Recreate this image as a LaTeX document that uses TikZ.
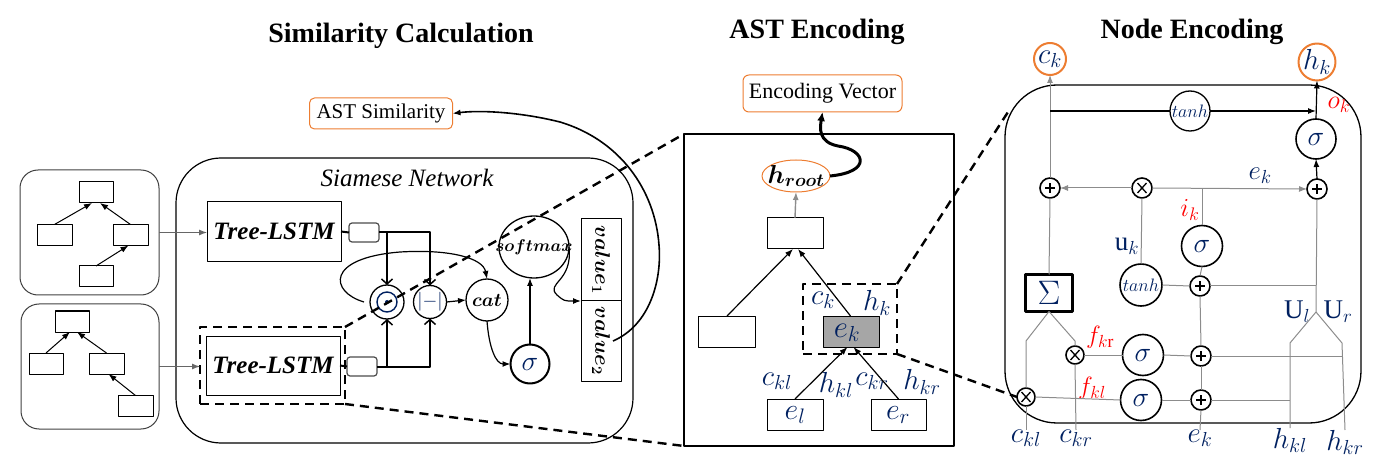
\RequirePackage{fix-cm}
\documentclass[tikz,border=0pt]{standalone}
\usepackage{amsmath}
\usepackage{bm}
\usepackage{fontspec}
\setmainfont{Liberation Serif}
\usetikzlibrary{arrows.meta,shapes.geometric,calc}
\definecolor{navy}{RGB}{0,32,96}
\definecolor{orng}{RGB}{237,125,49}
\definecolor{gline}{RGB}{140,140,140}
\definecolor{gfill}{RGB}{166,166,166}
\definecolor{redl}{RGB}{255,0,0}
\newcommand{\myfs}[1]{\fontsize{#1}{#1}\selectfont}
\begin{document}
\begin{tikzpicture}[x=1pt,y=-1pt,line join=round,
  every node/.style={inner sep=0pt,outer sep=0pt},
  arr/.style={-{Latex[length=8pt,width=6pt]}},
  barb/.style={-{Straight Barb[length=5pt,width=11pt,line width=1.5pt]}},
  gl/.style={draw=gline,line width=1pt},
  thk/.style={line width=2pt},
  dsh/.style={line width=2.4pt,dash pattern=on 9pt off 6pt},
  leaf/.style={draw,line width=1pt,minimum width=34pt,minimum height=21pt},
  tbox/.style={draw=black!75,line width=1pt,rounded corners=18pt,minimum width=139pt,minimum height=125pt},
  circ/.style={circle,draw,line width=1.3pt},
  mlab/.style={text=navy,font=\myfs{29}},
  slab/.style={text=navy,font=\myfs{27}},
  rlab/.style={text=redl,font=\myfs{26}},
  opl/.style={circle,draw,line width=1.6pt,minimum size=20pt,
    path picture={\draw[line width=1.3pt] ($(path picture bounding box.center)+(-5pt,0pt)$) -- +(10pt,0pt)
      ($(path picture bounding box.center)+(0pt,-5pt)$) -- +(0pt,10pt);}},
  otm/.style={circle,draw,line width=1.6pt,minimum size=20pt,
    path picture={\draw[line width=1.3pt] ($(path picture bounding box.center)+(-4.5pt,-5pt)$) -- +(9pt,10pt)
      ($(path picture bounding box.center)+(-4.5pt,5pt)$) -- +(9pt,-10pt);}},
  ttl/.style={font=\myfs{28}\bfseries}
]
\useasboundingbox (0,0) rectangle (1377,465);

% ---------- titles
\node[ttl] at (401,36) {Similarity Calculation};
\node[ttl] at (817,32) {AST Encoding};
\node[ttl] at (1192,32) {Node Encoding};

% ---------- left trees
\node[tbox] (tb1) at (89.5,232.5) {};
\node[leaf] (t1t) at (96,192.5) {};
\node[leaf,minimum width=35pt] (t1l) at (54.5,235) {};
\node[leaf,minimum width=35pt] (t1r) at (130.5,235) {};
\node[leaf] (t1b) at (96,276.5) {};
\draw[line width=1pt,arr] (t1l.north) -- ([xshift=-4pt]t1t.south);
\draw[line width=1pt,arr] (t1r.north) -- ([xshift=4pt]t1t.south);
\draw[line width=1pt,arr] (t1b.north) -- ([xshift=-2pt]t1r.south);

\node[tbox,minimum width=138pt] (tb2) at (90,366.5) {};
\node[leaf] (t2t) at (72,321.5) {};
\node[leaf] (t2l) at (46,363.5) {};
\node[leaf,minimum width=35pt] (t2r) at (106.5,363.5) {};
\node[leaf,minimum width=35pt] (t2b) at (135.5,406) {};
\draw[line width=1pt,arr] (t2l.north) -- ([xshift=-2pt]t2t.south);
\draw[line width=1pt,arr] (t2r.north) -- ([xshift=5pt]t2t.south);
\draw[line width=1pt,arr] (t2b.north) -- ([xshift=2pt]t2r.south);

% ---------- siamese network
\node[draw,line width=1.2pt,rounded corners=45pt,minimum width=457pt,minimum height=285pt] (sia) at (404.5,300.5) {};
\node[font=\myfs{25}\itshape] (sian) at (407,178) {Siamese Network};
\node[draw,line width=1pt,minimum width=134pt,minimum height=60pt,font=\myfs{25}\bfseries\itshape] (tl1) at (274,231.5) {Tree-LSTM};
\node[draw,line width=1pt,minimum width=134pt,minimum height=59pt,font=\myfs{25}\bfseries\itshape] (tl2) at (273,365.5) {Tree-LSTM};
\node[draw,dsh,minimum width=145pt,minimum height=77pt] (db1) at (272.5,365.5) {};
\draw[draw=black!60,line width=1pt,arr] (tb1.east) -- (tb1.east -| tl1.west);
\draw[draw=black!60,line width=1pt,arr] (tb2.east) -- (tb2.east -| db1.west);

\node[draw=black!70,line width=1.2pt,rounded corners=3pt,minimum width=30pt,minimum height=19pt] (sb1) at (364,232.5) {};
\node[draw=black!70,line width=1.2pt,rounded corners=3pt,minimum width=30pt,minimum height=19pt] (sb2) at (362,366.5) {};

\node[circ,minimum size=34pt,path picture={\draw[navy,line width=1.4pt] (path picture bounding box.center) circle (10pt);
  \fill[navy] (path picture bounding box.center) circle (2pt);}] (od) at (387,302) {};
\node[circ,minimum size=33pt] (mn) at (430,302) {};
\node[text=navy,font=\myfs{19}] (mnt) at (mn) {$|{-}|$};
\node[circ,minimum size=42pt,font=\myfs{19}] (cat) at (487,300) {$\bm{cat}$};
\node[ellipse,draw,line width=1.3pt,minimum width=70pt,minimum height=62pt] (sm) at (534,247) {};
\node[font=\myfs{17}] (smt) at (sm) {$\bm{softmax}$};
\node[circ,line width=2pt,minimum size=39pt,text=navy,font=\myfs{28}] (s1) at (530,364) {$\sigma$};
\node[draw,line width=1pt,minimum width=40pt,minimum height=82pt] (v1) at (601,260) {};
\node[draw,line width=1pt,minimum width=40pt,minimum height=80pt] (v2) at (601,341) {};
\node[rotate=-90,font=\myfs{21}] at (v1) {$\bm{value_1}$};
\node[rotate=-90,font=\myfs{21}] at (v2) {$\bm{value_2}$};

\draw[thk] (tl1.east) -- (sb1.west);
\draw[thk] (tl2.east) -- (sb2.west);
\draw[thk,barb] (sb1.east) -- (mn.north |- sb1.east) -- (mn.north);
\draw[thk,barb] (od.north |- sb1.east) -- (od.north);
\draw[thk,barb] (sb2.east) -- (mn.south |- sb2.east) -- (mn.south);
\draw[thk,barb] (od.south |- sb2.east) -- (od.south);
\draw[line width=1.2pt,arr] (mn.east) -- (cat.west);
\draw[line width=1.2pt,arr] ([xshift=-6pt]od.west) .. controls (330,292) and (325,258) .. (400,252)
   .. controls (450,249) and (483,258) .. (cat.north);
\draw[line width=1.2pt,arr] (cat.south) .. controls (489,348) and (496,364) .. (s1.west);
\draw[line width=1.2pt,arr] (s1.north) -- (s1.north |- sm.south);
\draw[line width=1.2pt,arr] (sm.east) .. controls (573,282) and (545,283) .. (557,295)
   .. controls (564,301) .. (v1.south west);

\node[draw=orng,line width=1pt,rounded corners=5pt,minimum width=143pt,minimum height=31pt,font=\myfs{21}] (ast) at (381,113.5) {AST Similarity};
\draw[line width=1.6pt,arr] ([xshift=-8pt]v2.east) .. controls (650,325) and (662,280) .. (659,245)
   .. controls (655,190) and (620,140) .. (560,122) .. controls (520,112) and (480,110) .. (ast.east);

% ---------- AST encoding
\node[draw,line width=1.2pt,minimum width=270pt,minimum height=312pt] (mid) at (819,290) {};
\node[draw=orng,rounded corners=6pt,line width=1pt,minimum width=159pt,minimum height=37pt,font=\myfs{22}] (encv) at (822.5,93.5) {Encoding Vector};
\node[ellipse,draw=orng,line width=1pt,minimum width=68pt,minimum height=32pt] (hr) at (796,176) {};
\node[font=\myfs{26}] (hrt) at (hr) {$\bm{h_{root}}$};
\node[leaf,minimum width=56pt,minimum height=31pt] (mt) at (795,233.5) {};
\node[leaf,minimum width=57pt,minimum height=31pt] (ml) at (727,331.5) {};
\node[leaf,minimum width=56pt,minimum height=31pt,fill=gfill] (ek) at (851.5,331.5) {};
\node[draw,dsh,minimum width=94pt,minimum height=70pt] (db2) at (850,319) {};
\node[leaf,minimum width=56pt,minimum height=31pt] (el) at (795,414.5) {};
\node[leaf,minimum width=55pt,minimum height=31pt] (er) at (898.5,414.5) {};
\node[mlab,font=\myfs{31}] at (847,333) {$e_k$};
\node[mlab,font=\myfs{30}] at (795,415) {$e_l$};
\node[mlab,font=\myfs{30}] at (898,415) {$e_r$};
\node[mlab] at (823,300) {$c_k$};
\node[mlab] at (877,303) {$h_k$};
\node[mlab] at (777,381) {$c_{kl}$};
\node[mlab] at (836,385) {$h_{kl}$};
\node[mlab] at (872,381) {$c_{kr}$};
\node[mlab] at (922,382) {$h_{kr}$};
\draw[line width=1.2pt,arr] (ml.north) -- ([xshift=-2pt]mt.south);
\draw[line width=1.2pt,arr] ([xshift=-1pt]ek.north) -- ([xshift=3pt]mt.south);
\draw[line width=1.2pt,arr] (el.north) -- ([xshift=-4pt]ek.south);
\draw[line width=1.2pt,arr] (er.north) -- ([xshift=2pt]ek.south);
\draw[draw=gline,line width=1.4pt,arr] (mt.north) -- (hr.south);
\draw[line width=3pt,-{Latex[length=9pt,width=8pt]}] (hr.east) .. controls (872,172) and (866,150) .. (838,146)
   .. controls (818,142) and (820,128) .. (encv.south);

% ---------- node encoding
\node[draw,line width=1.3pt,rounded corners=52pt,minimum width=356pt,minimum height=338pt] (rb) at (1183,254) {};
\node[circle,draw=orng,line width=2pt,minimum size=32pt,text=navy,font=\myfs{29}] (cko) at (1050,59) {$c_k$};
\node[circle,draw=orng,line width=2pt,minimum size=32pt,text=navy,font=\myfs{29}] (hko) at (1317,62) {$h_k$};
\node[circ,minimum size=40pt,text=navy,font=\myfs{18}] (th1) at (1190,111) {$tanh$};
\node[circ,line width=1.6pt,minimum size=40pt,text=navy,font=\myfs{28}] (sgo) at (1316,139) {$\sigma$};
\node[opl] (pL) at (1050,188) {};
\node[opl] (pR) at (1317,189) {};
\node[otm] (xu) at (1142,188) {};
\node[circ,line width=1.6pt,minimum size=41pt,text=navy,font=\myfs{28}] (sgi) at (1202,246) {$\sigma$};
\node[circ,line width=1.6pt,minimum size=42pt,text=navy,font=\myfs{18}] (th2) at (1141,285) {$tanh$};
\node[opl] (p1) at (1200,286) {};
\node[opl] (p2) at (1201,356) {};
\node[opl] (p3) at (1201,400) {};
\node[circ,line width=1.6pt,minimum size=41pt,text=navy,font=\myfs{28}] (sfr) at (1143,355) {$\sigma$};
\node[circ,line width=1.6pt,minimum size=41pt,text=navy,font=\myfs{28}] (sfl) at (1141,400) {$\sigma$};
\node[otm,minimum size=18pt] (xkr) at (1075,355) {};
\node[otm,minimum size=18pt] (xkl) at (1026,397) {};
\node[draw,line width=3pt,minimum width=47pt,minimum height=37pt,text=navy,font=\myfs{34}] (sum) at (1049,293) {$\Sigma$};
\coordinate (fk) at (1316,312);
\coordinate (fl) at (1290,343);
\coordinate (fr) at (1342,343);
\coordinate (sl) at (1026,341);
\coordinate (sr) at (1075,341);
\node[mlab,anchor=north] (ckl) at (1026,430) {$c_{kl}$};
\node[mlab,anchor=north] (ckr) at (1076,430) {$c_{kr}$};
\node[mlab,anchor=north] (ekb) at (1200,430) {$e_k$};
\node[mlab,anchor=north] (hkl) at (1290,428) {$h_{kl}$};
\node[mlab,anchor=north] (hkr) at (1345,430) {$h_{kr}$};
\node[rlab] at (1339,105) {$o_k$};
\node[rlab] at (1190,210) {$i_k$};
\node[slab] at (1127,246) {$\mathrm{u}_k$};
\node[slab] at (1260,176) {$e_k$};
\node[rlab,font=\myfs{25}] at (1100,337) {$f_{k\mathrm{r}}$};
\node[rlab,font=\myfs{25}] at (1092,388) {$f_{kl}$};
\node[slab] at (1297,312) {$\mathrm{U}_l$};
\node[slab] at (1338,312) {$\mathrm{U}_r$};

\draw[gl,arr] (pL.north) -- (cko.south);
\draw[gl] (sum.north) -- (pL.south);
\draw[line width=1.1pt] (pL.north |- th1.west) -- (th1.west);
\draw[line width=1.1pt,arr] (th1.east) -- (sgo.north |- th1.east);
\draw[line width=1.2pt,arr] (sgo.north) -- (hko.south);
\draw[line width=1.2pt,arr] (pR.north) -- (sgo.south);
\draw[gl,arr] (xu.west) -- (pL.east);
\draw[gl,arr] (xu.east) -- (pR.west);
\draw[gl] (sgi.north) -- (sgi.north |- xu.east);
\draw[gl] (xu.south) -- (th2.north);
\draw[gl] (th2.east) -- (p1.west);
\draw[gl] (sgi.south) -- (p1.north);
\draw[gl] (p1.south) -- (p2.north);
\draw[gl] (p2.south) -- (p3.north);
\draw[gl] (p3.south) -- (ekb.north);
\draw[gl] (p1.east) -- (p1.east -| fk);
\draw[gl] (pR.south) -- (fk);
\draw[gl] (fk) -- (fl) -- (hkl.north);
\draw[gl] (fk) -- (fr) -- (hkr.north);
\draw[gl] (p2.east) -- (p2.east -| fr);
\draw[gl] (p3.east) -- (p3.east -| fl);
\draw[gl] (sfr.east) -- (p2.west);
\draw[gl] (sfl.east) -- (p3.west);
\draw[gl] (xkr.east) -- (sfr.west);
\draw[gl] (xkl.east) -- (sfl.west);
\draw[gl] (sum.south) -- (sl) -- (xkl.north);
\draw[gl] (xkl.south) -- (ckl.north);
\draw[gl] (sum.south) -- (sr) -- (xkr.north);
\draw[gl] (xkr.south) -- (ckr.north);

% ---------- zoom connectors
\coordinate (rtop) at (1008,112);
\draw[dsh] (db1.north east) -- (mid.north west);
\draw[dsh] (db1.south east) -- (mid.south west);
\draw[dsh] (db2.north east) -- (rtop);
\draw[dsh] (db2.south east) -- (xkl.west);
\end{tikzpicture}
\end{document}
